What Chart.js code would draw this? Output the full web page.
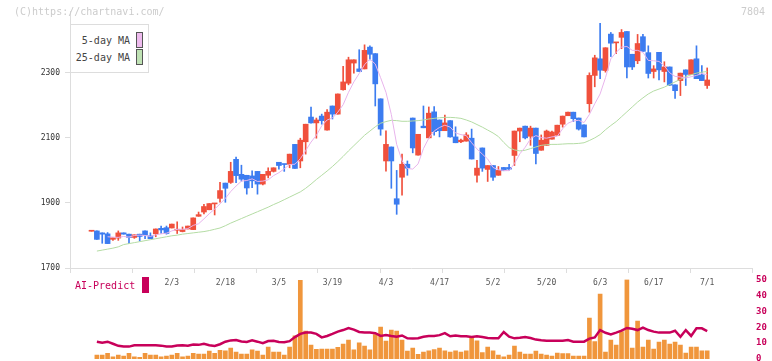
<!DOCTYPE html>
<html><head><meta charset="utf-8">
<script src="https://cdn.jsdelivr.net/npm/chart.js@4.4.1/dist/chart.umd.min.js"></script>
<style>
html,body{margin:0;padding:0;background:#fff;}
#wrap{position:relative;width:772px;height:361px;overflow:hidden;font-family:"DejaVu Sans Mono",monospace;}
canvas{position:absolute;left:0;}
#c1{top:0;}
#c2{top:270px;}
.t{position:absolute;white-space:nowrap;font-size:10px;line-height:12px;}
#copy{left:14px;top:6px;color:#cccccc;}
#code{left:741px;top:6px;color:#cccccc;}
#lg{position:absolute;left:70px;top:24px;width:77px;height:47px;border:1px solid #dddddd;background:#fff;}
.lt{position:absolute;right:18px;color:#444;font-size:10px;line-height:12px;white-space:nowrap;}
.sw{position:absolute;left:65px;width:5px;height:14px;border:1px solid #555;}
#ai{left:75px;top:280px;color:#c8005a;}
#aisw{position:absolute;left:142px;top:277px;width:7px;height:16px;background:#c8005a;}
</style></head>
<body>
<div id="wrap">
<canvas id="c1" width="772" height="300"></canvas>
<canvas id="c2" width="772" height="91"></canvas>
<div class="t" id="copy">(C)https://chartnavi.com/</div>
<div class="t" id="code">7804</div>
<div id="lg">
  <div class="lt" style="top:10px">5-day MA</div><div class="sw" style="top:7px;background:#eebbee"></div>
  <div class="lt" style="top:27px">25-day MA</div><div class="sw" style="top:24px;background:#bfe2b4"></div>
</div>
<div class="t" id="ai">AI-Predict</div><div id="aisw"></div>
</div>
<script>
const open = [1813,1814,1808,1805,1788,1792,1808,1804,1794,1804,
1814,1799,1805,1822,1824,1823,1816,1812,1820,1818,
1859,1872,1879,1897,1914,1961,1963,2034,1988,1985,
1983,1997,1958,1985,1997,2025,2019,2019,2080,2029,
2088,2164,2146,2167,2124,2198,2173,2248,2268,2330,
2312,2312,2379,2359,2220,2029,2072,1913,1979,2019,
2161,2047,2136,2100,2180,2155,2122,2153,2103,2088,
2090,2099,1985,2069,2003,2015,1985,2009,2009,2046,
2121,2136,2105,2130,2062,2077,2096,2108,2142,2168,
2179,2161,2140,2205,2292,2343,2307,2419,2392,2409,
2427,2357,2337,2411,2362,2304,2363,2304,2318,2263,
2276,2309,2295,2343,2294,2261];
const high = [1815,1814,1808,1809,1793,1814,1808,1804,1802,1804,
1814,1808,1820,1829,1829,1835,1842,1826,1829,1854,
1872,1896,1898,1898,1963,1961,2025,2041,2016,1985,
1999,1997,1988,2008,2008,2025,2019,2050,2080,2099,
2142,2195,2161,2173,2187,2198,2235,2320,2348,2340,
2371,2386,2383,2359,2220,2122,2072,2000,2050,2029,
2161,2111,2198,2195,2196,2155,2170,2153,2134,2096,
2116,2127,2031,2069,2015,2015,2012,2009,2019,2121,
2130,2136,2136,2130,2109,2124,2121,2139,2167,2179,
2179,2161,2140,2300,2354,2452,2377,2424,2393,2433,
2427,2357,2418,2418,2383,2322,2363,2334,2318,2263,
2299,2309,2340,2383,2322,2315];
const low = [1813,1788,1776,1775,1785,1785,1804,1775,1791,1783,
1790,1790,1796,1806,1804,1823,1806,1811,1820,1818,
1859,1866,1879,1863,1902,1902,1960,1962,1967,1927,
1947,1927,1955,1977,1995,2004,1997,2008,2006,2008,
2050,2145,2099,2142,2124,2158,2173,2247,2263,2299,
2304,2312,2340,2198,2108,1998,1945,1865,1924,1985,
2054,2047,2131,2100,2108,2103,2122,2102,2085,2085,
2090,2035,1964,1997,1966,1969,1985,1999,2001,2015,
2088,2097,2077,2020,2062,2077,2096,2108,2133,2168,
2150,2124,2103,2179,2257,2282,2302,2350,2359,2374,
2284,2310,2328,2366,2284,2284,2278,2272,2261,2221,
2230,2261,2295,2282,2276,2252];
const close = [1815,1788,1804,1775,1793,1808,1804,1794,1802,1797,
1801,1790,1820,1817,1806,1835,1817,1818,1829,1854,
1864,1889,1898,1898,1938,1945,1997,1984,1973,1946,
1968,1958,1988,1997,2008,2015,2018,2050,2006,2093,
2142,2146,2155,2153,2179,2173,2235,2272,2340,2340,
2304,2369,2357,2266,2127,2080,2029,1896,2019,2007,
2069,2111,2131,2176,2119,2122,2146,2103,2085,2093,
2109,2035,2007,2007,2015,1979,2000,1999,2004,2121,
2130,2100,2130,2052,2093,2121,2118,2139,2167,2179,
2159,2127,2103,2292,2346,2308,2377,2391,2393,2424,
2318,2318,2390,2366,2298,2312,2309,2318,2262,2245,
2299,2295,2340,2282,2276,2278];
const ma5 = [null,null,null,1796,1795,1794,1797,1795,1800,1801,
1800,1797,1802,1805,1807,1814,1819,1819,1821,1831,
1836,1851,1867,1881,1897,1914,1935,1952,1967,1969,
1974,1966,1967,1971,1984,1993,2005,2018,2019,2036,
2061,2087,2108,2137,2155,2161,2179,2202,2240,2272,
2298,2325,2342,2327,2285,2240,2172,2080,2030,2006,
2004,2020,2067,2099,2121,2132,2139,2133,2115,2110,
2107,2085,2066,2050,2035,2009,2002,2000,1999,2021,
2051,2071,2097,2107,2101,2099,2103,2105,2128,2145,
2152,2154,2147,2172,2205,2235,2285,2343,2363,2379,
2381,2369,2369,2363,2338,2337,2335,2321,2300,2289,
2287,2284,2288,2292,2298,2294];
const ma25 = [null,1752,1755,1758,1761,1765,1772,1775,1778,1781,
1784,1787,1790,1793,1796,1799,1801,1804,1806,1808,
1810,1812,1815,1819,1823,1830,1838,1845,1852,1859,
1866,1873,1880,1887,1895,1902,1910,1918,1926,1934,
1945,1958,1972,1985,1998,2012,2027,2043,2060,2076,
2092,2108,2121,2134,2145,2150,2154,2153,2151,2151,
2152,2153,2155,2158,2160,2162,2163,2163,2162,2160,
2155,2149,2141,2133,2124,2115,2104,2086,2070,2063,
2060,2062,2067,2072,2077,2079,2080,2080,2081,2082,
2082,2083,2085,2092,2100,2110,2125,2138,2150,2165,
2180,2195,2210,2223,2235,2244,2250,2256,2264,2272,
2280,2288,2294,2299,2302,2304];
const volume = [null,2.5,2.5,3.6,1.3,2.5,1.9,3.6,1.3,1.1,
3.6,2.5,2.5,1.3,1.9,2.5,3.6,1.3,1.9,3.6,
3.1,3.1,5.0,3.6,5.5,5.2,6.9,4.4,3.1,3.1,
5.7,5.0,2.5,7.5,4.4,4.4,2.5,7.5,14.5,49.5,
17.6,8.8,6.1,6.3,6.3,6.3,7.3,9.4,11.9,5.7,
10.1,8.2,5.7,15.3,20.1,11.3,18.2,17.6,11.9,5.0,
6.9,3.0,4.4,5.2,5.9,6.9,5.2,4.4,5.2,4.4,
5.2,13.6,11.5,4.0,7.5,5.2,2.5,1.3,2.5,8.2,
4.4,3.1,3.1,5.0,3.1,2.5,1.9,3.8,3.4,3.4,
1.9,1.9,1.9,25.8,10.9,40.9,4.4,11.9,8.8,17.2,
50,6.9,23.9,7.5,11.9,6.3,10.7,11.9,9.4,10.7,
8.8,3.8,7.5,7.5,5.2,5.2];
const aiPredict = [null,10.9,10.3,10.9,9.6,8.3,7.8,7.8,8.6,8.6,
8.6,8.6,8.6,8.4,7.8,7.8,8.5,8.6,8.4,9.1,
8.9,9.6,8.7,8.2,9.3,10.9,11.7,11.9,11.0,10.7,
11.7,10.9,9.9,11.3,11.4,10.7,10.5,11.2,13.8,15.8,
16.6,16.6,15.8,13.6,14.5,15.8,17.2,18.2,19.5,18.5,
17.0,16.6,16.6,16.2,14.5,15.1,14.5,14.0,14.8,13.0,
12.9,13.1,14.0,14.5,14.5,15.0,16.3,14.3,14.8,14.3,
14.3,13.8,14.3,13.8,13.2,13.0,13.0,17.0,14.0,13.0,
13.3,13.8,13.2,12.2,11.8,11.5,11.5,11.5,11.5,11.9,
10.9,10.9,10.9,12.8,13.6,18.2,16.5,15.5,16.6,17.8,
19.5,19.0,18.2,19.8,18.2,17.2,16.6,16.6,16.6,17.8,
14.0,18.2,14.5,19.3,19.3,17.6];
const tickLabels = ['2/3','2/18','3/5','3/19','4/3','4/17','5/2','5/20','6/3','6/17','7/1'];
const tickIndex = [15,25,35,45,55,65,75,85,95,105,115];
const priceTicks = [1700,1900,2100,2300];

const FONT = '"DejaVu Sans Mono", monospace';
const RED = '#f0503c', BLUE = '#3c7cf0';
const X_MIN = -4.02, X_MAX = 123.37;
const idx = close.map((_, i) => i);
const col = idx.map(i => close[i] >= open[i] ? RED : BLUE);
const noPad = s => { s.paddingTop = 0; s.paddingBottom = 0; };

new Chart(document.getElementById('c1'), {
  data: { datasets: [
    { type:'bar', label:'wick', xAxisID:'x', yAxisID:'y',
      data: idx.map(i => ({x:i, y:[low[i], high[i]]})),
      backgroundColor: col, barThickness:1, grouped:false, order:4 },
    { type:'bar', label:'body', xAxisID:'x', yAxisID:'y',
      data: idx.map(i => ({x:i, y:[open[i], close[i]]})),
      backgroundColor: col, barThickness:5, minBarLength:1, grouped:false, order:3 },
    { type:'line', label:'25-day MA', xAxisID:'x', yAxisID:'y',
      data: idx.map(i => ({x:i, y:ma25[i]})),
      borderColor:'#b4dca4', borderWidth:1, pointRadius:0, tension:0, order:2 },
    { type:'line', label:'5-day MA', xAxisID:'x', yAxisID:'y',
      data: idx.map(i => ({x:i, y:ma5[i]})),
      borderColor:'#e8b4ec', borderWidth:1, pointRadius:0, tension:0, order:1 }
  ]},
  options: {
    responsive:false, animation:false, devicePixelRatio:1, events:[],
    layout:{ padding:{ left:0, right:20, top:11, bottom:7 } },
    plugins:{ legend:{display:false}, tooltip:{enabled:false} },
    scales:{
      x:{ type:'linear', min:X_MIN, max:X_MAX, position:'bottom', offset:false,
          afterBuildTicks: s => { s.ticks = Array.from({length:12}, (_, k) => ({value: X_MIN + k*(X_MAX-X_MIN)/11})); },
          grid:{ display:true, drawOnChartArea:false, drawTicks:true, tickLength:5, color:'#dddddd', offset:false },
          border:{ display:true, color:'#dddddd' },
          ticks:{ display:false },
          afterFit: s => { s.height = 5; } },
      xd:{ type:'linear', min:X_MIN, max:X_MAX, position:'bottom', offset:false,
          afterBuildTicks: s => { s.ticks = tickIndex.map(v => ({value:v})); },
          ticks:{ callback:(v, k) => tickLabels[k], font:{family:FONT, size:8}, color:'#555555', padding:5, maxRotation:0, autoSkip:false },
          grid:{ display:false, drawTicks:false, tickLength:0 }, border:{ display:false },
          afterFit: s => { s.height = 20; } },
      y:{ type:'linear', min:1700, max:2490, position:'left', beginAtZero:false,
          afterBuildTicks: s => { s.ticks = priceTicks.map(v => ({value:v})); },
          ticks:{ callback: v => String(v), font:{family:FONT, size:8}, color:'#333333', padding:5 },
          grid:{ display:true, drawOnChartArea:false, tickLength:5, color:'#dddddd' },
          border:{ display:true, color:'#dddddd' },
          afterFit: s => { s.width = 70; noPad(s); } }
    }
  }
});

new Chart(document.getElementById('c2'), {
  data: { datasets: [
    { type:'line', label:'AI-Predict', data: idx.map(i => ({x:i, y:aiPredict[i]})),
      borderColor:'#c8005a', borderWidth:2.5, pointRadius:0, tension:0, order:1 },
    { type:'bar', label:'Volume', data: idx.map(i => ({x:i, y:volume[i]})),
      backgroundColor:'#f0963c', barThickness:4, grouped:false, order:2 }
  ]},
  options: {
    responsive:false, animation:false, devicePixelRatio:1, events:[],
    layout:{ padding:{ left:70, right:0, top:9.5, bottom:2 } },
    plugins:{ legend:{display:false}, tooltip:{enabled:false} },
    scales:{
      x:{ type:'linear', min:X_MIN, max:X_MAX, display:false, offset:false },
      y:{ type:'linear', position:'right', min:0, max:50,
          ticks:{ stepSize:10, color:'#c8005a', font:{family:FONT, size:9, weight:'bold'}, padding:4 },
          grid:{ display:false, drawTicks:false }, border:{ display:false },
          afterFit: s => { s.width = 20; noPad(s); } }
    }
  }
});
</script>
</body></html>
